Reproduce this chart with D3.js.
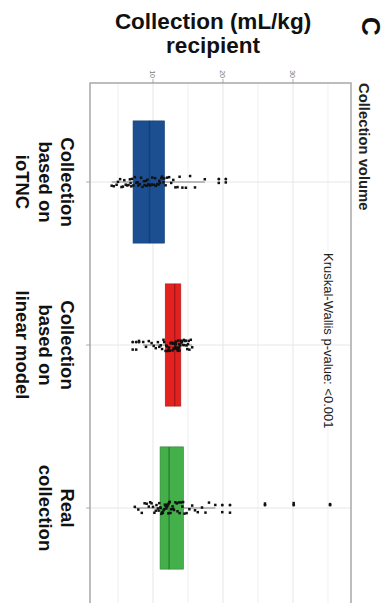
<!DOCTYPE html>
<html>
<head>
<meta charset="utf-8">
<script src="https://cdn.jsdelivr.net/npm/d3@7"></script>
<style>
  body { margin: 0; background: #fff; }
  svg { display: block; }
  text { font-family: "Liberation Sans", Arial, Helvetica, sans-serif; }
</style>
</head>
<body>
<svg id="chart" width="390" height="603"></svg>
<script>
// Collection volume per recipient weight (mL/kg), three ways of setting the collection
const groupKeys = ["ioTNC", "linear", "real"];
const groupLabels = [
  ["Collection", "based on", "ioTNC"],
  ["Collection", "based on", "linear model"],
  ["Real", "collection"]
];
const groupFills = ["#1b4f91", "#e3211f", "#44b04a"];
const groupDark = ["#153f74", "#a8171a", "#2c7f34"];

const ioTNC = [4.1, 4.4, 4.8, 5.0, 5.3, 5.5, 5.7, 5.9, 6.1, 6.3, 6.5, 6.7, 6.8, 6.9, 7.0,
  7.2, 7.4, 7.6, 7.8, 7.9, 8.1, 8.3, 8.5, 8.7, 8.8, 9.0, 9.1, 9.2, 9.3, 9.4,
  9.6, 9.8, 9.9, 10.1, 10.3, 10.4, 10.6, 10.8, 10.9, 11.0, 11.2, 11.3, 11.4, 11.5, 11.6,
  11.8, 12.0, 12.3, 12.6, 12.9, 13.2, 13.5, 13.8, 14.2, 14.7, 15.3, 16.0, 17.4, 19.4, 20.4];

const linearModel = [7.1, 7.6, 8.0, 8.6, 9.0, 9.4, 9.8, 10.1, 10.4, 10.7, 10.9, 11.1, 11.3, 11.5, 11.6,
  11.8, 11.9, 12.0, 12.1, 12.2, 12.3, 12.4, 12.5, 12.6, 12.7, 12.8, 12.9, 12.95, 13.0, 13.05,
  13.15, 13.2, 13.25, 13.3, 13.35, 13.4, 13.5, 13.55, 13.6, 13.65, 13.7, 13.75, 13.8, 13.9, 13.95,
  14.05, 14.1, 14.2, 14.3, 14.4, 14.5, 14.6, 14.7, 14.8, 14.9, 15.0, 15.1, 15.2, 15.4, 15.6];

const realCollection = [7.4, 7.9, 8.4, 8.8, 9.1, 9.4, 9.6, 9.8, 10.0, 10.2, 10.4, 10.5, 10.7, 10.8, 10.9,
  11.05, 11.1, 11.2, 11.3, 11.4, 11.5, 11.6, 11.7, 11.8, 11.9, 12.0, 12.05, 12.1, 12.2, 12.25,
  12.35, 12.4, 12.5, 12.6, 12.8, 12.9, 13.0, 13.2, 13.4, 13.5, 13.7, 13.8, 14.0, 14.2, 14.3,
  14.5, 14.8, 15.2, 15.6, 16.0, 16.4, 17.0, 17.5, 18.0, 18.9, 19.9, 21.0, 26.0, 30.1, 35.3];

const seriesValues = [ioTNC, linearModel, realCollection];
const majorTicks = [10, 20, 30];
const minorTicks = [5, 15, 25, 35];
const titleText = "Collection volume";
const testText = "Kruskal-Wallis p-value: <0.001";
const axisTitle = ["Collection (mL/kg)", "recipient"];
const panelTag = "C";

const svg = d3.select("#chart");

// value axis runs left → right, groups stacked top → bottom
const panel = { left: 90, right: 351, top: 83 };
const x = d3.scaleLinear().domain([1, 38.29]).range([panel.left, panel.right]);
const y = d3.scalePoint().domain(groupKeys).range([182, 508]);
const step = y(groupKeys[1]) - y(groupKeys[0]);
const boxHalf = step * 0.375;
const panelBottom = y(groupKeys[2]) + step * 0.6;

// stable pseudo-jitter so the point cloud is the same on every load
function jitter(i, j) {
  const s = Math.sin(j * 78.233 + i * 12.9898 + 1.7) * 43758.5453;
  return (s - Math.floor(s) - 0.5) * 12;
}

// grid
const grid = svg.append("g");
grid.selectAll(".minor").data(minorTicks).join("line")
  .attr("x1", d => x(d)).attr("x2", d => x(d))
  .attr("y1", panel.top).attr("y2", panelBottom)
  .attr("stroke", "#f0f0f0").attr("stroke-width", 1);
grid.selectAll(".major").data(majorTicks).join("line")
  .attr("x1", d => x(d)).attr("x2", d => x(d))
  .attr("y1", panel.top).attr("y2", panelBottom)
  .attr("stroke", "#e6e6e6").attr("stroke-width", 1);
grid.selectAll(".cat").data(groupKeys).join("line")
  .attr("x1", panel.left).attr("x2", panel.right)
  .attr("y1", d => y(d)).attr("y2", d => y(d))
  .attr("stroke", "#e6e6e6").attr("stroke-width", 1);

// box statistics (Tukey: whiskers to the furthest point within 1.5 IQR)
const stats = seriesValues.map(vals => {
  const s = vals.slice().sort(d3.ascending);
  const q1 = d3.quantile(s, 0.25), med = d3.quantile(s, 0.5), q3 = d3.quantile(s, 0.75);
  const iqr = q3 - q1;
  const lo = q1 - 1.5 * iqr, hi = q3 + 1.5 * iqr;
  const inside = s.filter(v => v >= lo && v <= hi);
  return { q1, med, q3, wLo: d3.min(inside), wHi: d3.max(inside), out: s.filter(v => v < lo || v > hi) };
});

const boxes = svg.append("g");
groupKeys.forEach((k, i) => {
  const st = stats[i], cy = y(k);
  const g = boxes.append("g");
  g.append("line").attr("x1", x(st.wLo)).attr("x2", x(st.q1)).attr("y1", cy).attr("y2", cy)
    .attr("stroke", "#555").attr("stroke-width", 0.7);
  g.append("line").attr("x1", x(st.q3)).attr("x2", x(st.wHi)).attr("y1", cy).attr("y2", cy)
    .attr("stroke", "#555").attr("stroke-width", 0.7);
  g.append("rect")
    .attr("x", x(st.q1)).attr("y", cy - boxHalf)
    .attr("width", x(st.q3) - x(st.q1)).attr("height", boxHalf * 2)
    .attr("fill", groupFills[i]).attr("stroke", groupDark[i]).attr("stroke-width", 0.6);
  g.append("line").attr("x1", x(st.med)).attr("x2", x(st.med))
    .attr("y1", cy - boxHalf).attr("y2", cy + boxHalf)
    .attr("stroke", groupDark[i]).attr("stroke-width", 1.4);
  g.selectAll(".out").data(st.out).join("circle")
    .attr("cx", d => x(d)).attr("cy", cy - 3).attr("r", 1.5).attr("fill", "#111");
});

// jittered observations on top of the boxes
const pts = svg.append("g");
groupKeys.forEach((k, i) => {
  pts.selectAll(null).data(seriesValues[i]).join("rect")
    .attr("x", d => x(d) - 1.25)
    .attr("y", (d, j) => y(k) + jitter(i, j) - 1.25)
    .attr("width", 2.5).attr("height", 2.5)
    .attr("fill", "#111");
});

// panel border (the bottom edge runs past the page)
svg.append("rect")
  .attr("x", panel.left).attr("y", panel.top)
  .attr("width", panel.right - panel.left).attr("height", panelBottom - panel.top)
  .attr("fill", "none").attr("stroke", "#a8a8a8").attr("stroke-width", 1.5);

// value axis ticks + labels along the top
const ax = svg.append("g");
ax.selectAll("line").data(majorTicks).join("line")
  .attr("x1", d => x(d)).attr("x2", d => x(d))
  .attr("y1", panel.top - 4).attr("y2", panel.top)
  .attr("stroke", "#999").attr("stroke-width", 0.8);
ax.selectAll("text").data(majorTicks).join("text")
  .attr("transform", d => `translate(${x(d) - 2.5},${panel.top - 5}) rotate(90)`)
  .attr("text-anchor", "end")
  .attr("font-size", 7).attr("fill", "#777")
  .text(d => d);

// group ticks on the left border
svg.append("g").selectAll("line").data(groupKeys).join("line")
  .attr("x1", panel.left - 4).attr("x2", panel.left)
  .attr("y1", d => y(d)).attr("y2", d => y(d))
  .attr("stroke", "#999").attr("stroke-width", 0.8);

// group labels, written top → bottom, first line closest to the panel
groupKeys.forEach((k, i) => {
  groupLabels[i].forEach((ln, j) => {
    svg.append("text")
      .attr("transform", `translate(${61 - j * 22.5},${y(k)}) rotate(90)`)
      .attr("text-anchor", "middle")
      .attr("font-size", 18.5).attr("font-weight", "bold").attr("fill", "#111")
      .text(ln);
  });
});

// value axis title
axisTitle.forEach((t, j) => {
  svg.append("text")
    .attr("x", 213).attr("y", 29 + j * 24)
    .attr("text-anchor", "middle")
    .attr("font-size", 22.5).attr("font-weight", "bold").attr("fill", "#111")
    .text(t);
});

// chart title and test annotation
svg.append("text")
  .attr("transform", `translate(359,${panel.top}) rotate(90)`)
  .attr("font-size", 14.8).attr("font-weight", "bold").attr("fill", "#222")
  .text(titleText);
svg.append("text")
  .attr("transform", `translate(324,253) rotate(90)`)
  .attr("font-size", 13).attr("fill", "#222")
  .text(testText);

// panel tag
svg.append("text")
  .attr("transform", `translate(362,17) rotate(90)`)
  .attr("font-size", 26).attr("font-weight", "bold").attr("fill", "#111")
  .text(panelTag);
</script>
</body>
</html>
